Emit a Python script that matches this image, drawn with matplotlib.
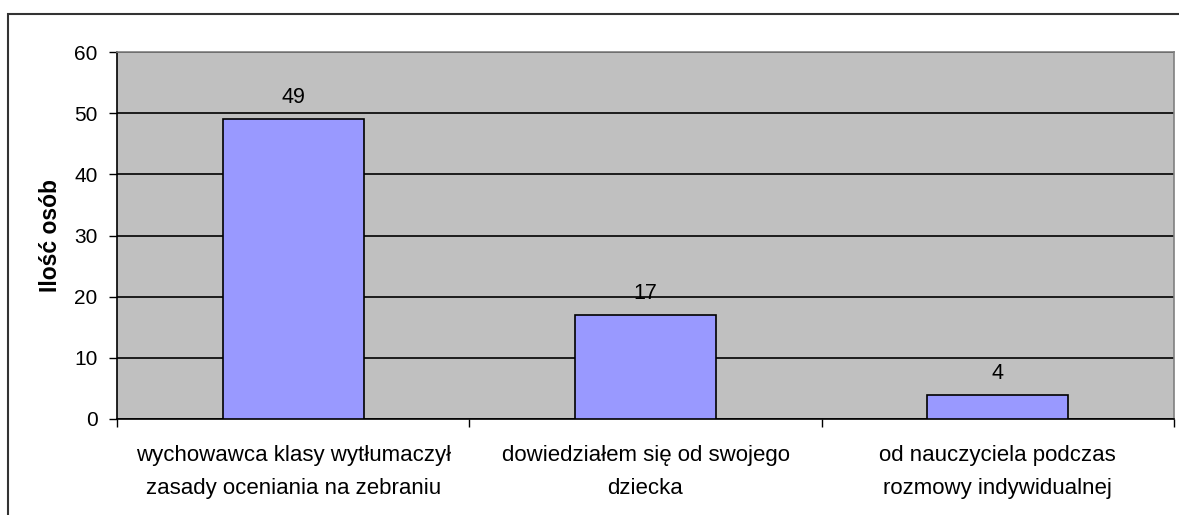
import matplotlib
matplotlib.use("Agg")
import matplotlib.pyplot as plt
from matplotlib.patches import Rectangle

categories = ["wychowawca klasy wytłumaczył\nzasady oceniania na zebraniu",
              "dowiedziałem się od swojego\ndziecka",
              "od nauczyciela podczas\nrozmowy indywidualnej"]
values = [49, 17, 4]
yticks = [0, 10, 20, 30, 40, 50, 60]

plt.rcParams['font.family'] = ['Liberation Sans', 'DejaVu Sans']

W, H = 1179, 515
fig = plt.figure(figsize=(W/100, H/100), dpi=100)
# outer chart border (cut at right/bottom)
fig.patches.append(Rectangle((8/W, -0.1), 1.2, (H-14)/H + 0.1, transform=fig.transFigure,
                             fill=False, edgecolor='#333333', linewidth=1.5))

left, right, top, bottom = 117, 1174, 52, 419
ax = fig.add_axes([left/W, 1-bottom/H, (right-left)/W, (bottom-top)/H])
ax.set_facecolor('#C0C0C0')
x = range(len(values))
ax.bar(x, values, width=0.40, color='#9999FF', edgecolor='black', linewidth=1.2, zorder=3)
ax.set_xlim(-0.5, len(values)-0.5)
ax.set_ylim(0, 60)
ax.set_yticks(yticks)
ax.yaxis.grid(True, color='black', linewidth=1.2, zorder=1)
ax.set_axisbelow(True)
ax.tick_params(axis='y', length=6, width=1, labelsize=15, pad=8, color='black')
ax.set_xticks([i - 0.5 for i in range(len(values)+1)], minor=True)
ax.set_xticks(list(x))
ax.set_xticklabels(categories, fontsize=16, linespacing=1.75)
ax.tick_params(axis='x', which='major', length=0, pad=19)
ax.tick_params(axis='x', which='minor', length=6, width=1, color='black')
for s in ['left', 'bottom']:
    ax.spines[s].set_color('black'); ax.spines[s].set_linewidth(1.2)
for s in ['right', 'top']:
    ax.spines[s].set_color('#808080'); ax.spines[s].set_linewidth(1.2)
for i, v in enumerate(values):
    ax.text(i, v + 2.6, str(v), ha='center', va='baseline', fontsize=15.5)
ax.set_ylabel('Ilość osób', fontsize=16.5, fontweight='bold', labelpad=9)

fig.savefig('out.png', dpi=100)
